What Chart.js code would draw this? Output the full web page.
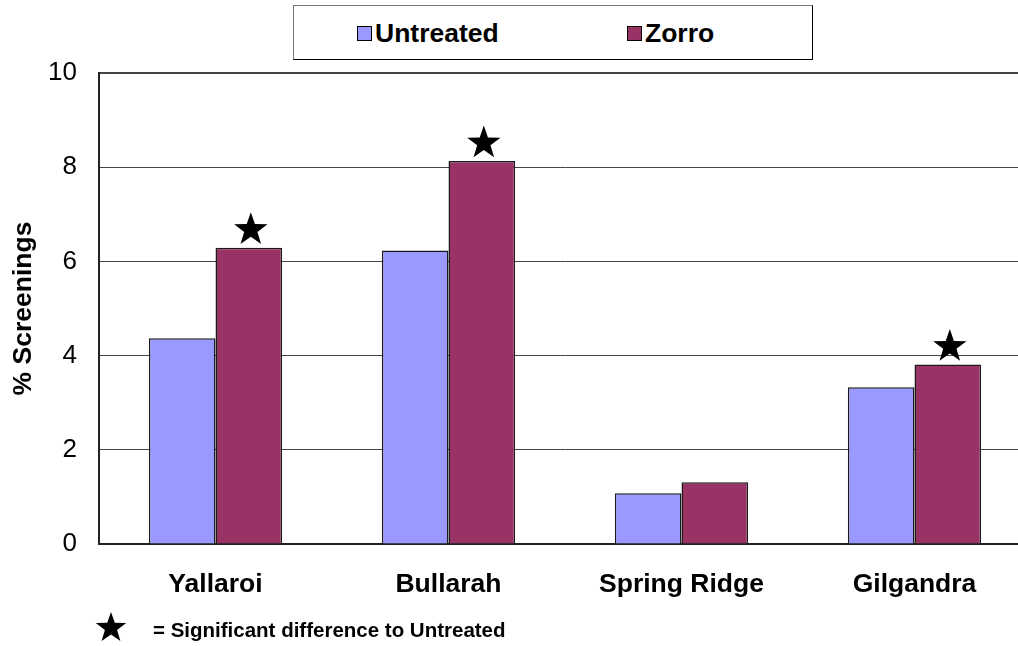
<!DOCTYPE html>
<html>
<head>
<meta charset="utf-8">
<script src="https://cdn.jsdelivr.net/npm/chart.js@4/dist/chart.umd.min.js"></script>
<style>
    html, body { margin: 0; padding: 0; background: #fff; overflow: hidden; }
    #wrap { position: relative; width: 1018px; height: 646px; overflow: hidden; font-family: "Liberation Sans", Arial, sans-serif; }
    #grafica { position: absolute; left: 0; top: 0; }
    .leyenda {
        position: absolute; left: 293px; top: 5px; width: 518px; height: 53px;
        border: 1px solid #000; border-top-color: #777; border-left-color: #777; background: #fff;
    }
    .item { position: absolute; top: 13px; font-weight: bold; font-size: 26.5px; line-height: 28px; color: #000; }
    .caja { display: inline-block; width: 13px; height: 13px; border: 1px solid #000; margin-right: 3px; vertical-align: 1px; }
    .nota { position: absolute; left: 95px; top: 612px; font-weight: bold; font-size: 20.5px; color: #000; }
    .nota svg { vertical-align: -6px; margin-right: 26px; }
</style>
</head>
<body>
<div id="wrap">
    <canvas id="grafica" width="1040" height="646"></canvas>
    <div class="leyenda">
        <span class="item" style="left:63px"><span class="caja" style="background:#9999FF"></span>Untreated</span>
        <span class="item" style="left:333px"><span class="caja" style="background:#993366"></span>Zorro</span>
    </div>
    <div class="nota">
        <svg width="32" height="31" viewBox="-16 -16 32 31"><path id="estrella" fill="#000"></path></svg>= Significant difference to Untreated
    </div>
</div>
<script>
// ========== Datos ==========

const sitios     = ['Yallaroi', 'Bullarah', 'Spring Ridge', 'Gilgandra'];
const untreated  = [4.37, 6.23, 1.08, 3.33];
const zorro      = [6.29, 8.13, 1.31, 3.81];
const significativo = [true, true, false, true];
const ticksY     = [0, 2, 4, 6, 8, 10];

// ========== Estrella ==========

function puntosEstrella(r) {
    const pts = [];
    for (let i = 0; i < 10; i++) {
        const rad = i % 2 === 0 ? r : r * 0.4;
        const ang = -Math.PI / 2 + i * Math.PI / 5;
        pts.push([Math.cos(ang) * rad, Math.sin(ang) * rad]);
    }
    return pts;
}

document.getElementById('estrella').setAttribute('d',
    'M' + puntosEstrella(16).map(p => p[0].toFixed(2) + ',' + p[1].toFixed(2)).join('L') + 'Z');

const pluginEstrellas = {
    id: 'estrellas',
    afterDatasetsDraw(chart) {
        const ctx = chart.ctx;
        const barras = chart.getDatasetMeta(1).data;
        barras.forEach((bar, i) => {
            if (!significativo[i]) return;
            const cx = bar.x + 2, cy = bar.y - 18;
            ctx.save();
            ctx.beginPath();
            puntosEstrella(17.5).forEach((p, k) => {
                if (k === 0) ctx.moveTo(cx + p[0], cy + p[1]);
                else ctx.lineTo(cx + p[0], cy + p[1]);
            });
            ctx.closePath();
            ctx.fillStyle = '#000';
            ctx.fill();
            ctx.restore();
        });
    }
};

// ========== Gráfica ==========

new Chart(document.getElementById('grafica'), {
    type: 'bar',
    data: {
        labels: sitios,
        datasets: [
            { label: 'Untreated', data: untreated, backgroundColor: '#9999FF', borderColor: '#1a1a1a', borderWidth: 1.5 },
            { label: 'Zorro',     data: zorro,     backgroundColor: '#993366', borderColor: '#1a1a1a', borderWidth: 1.5 },
        ]
    },
    options: {
        responsive: false,
        animation: false,
        layout: { padding: { top: 73, right: 9, left: 0, bottom: 0 } },
        datasets: { bar: { categoryPercentage: 0.572, barPercentage: 1.0 } },
        plugins: { legend: { display: false }, tooltip: { enabled: false } },
        scales: {
            x: {
                grid: { display: false, drawTicks: false },
                border: { color: '#222', width: 2 },
                ticks: { color: '#000', padding: 25, font: { family: 'Liberation Sans', size: 26.5, weight: 'bold' } },
                afterFit: s => { s.height = 102; }
            },
            y: {
                min: 0, max: 10,
                afterBuildTicks: s => { s.ticks = ticksY.map(v => ({ value: v })); },
                grid: {
                    color: '#444', drawTicks: false,
                    lineWidth: ctx => (ctx.tick && ctx.tick.value === 10 ? 2 : 1)
                },
                border: { color: '#222', width: 2 },
                ticks: { color: '#000', padding: 22, font: { family: 'Liberation Sans', size: 26 } },
                title: {
                    display: true, text: '% Screenings', color: '#000',
                    padding: { top: 8, bottom: 0 },
                    font: { family: 'Liberation Sans', size: 26.5, weight: 'bold' }
                },
                afterFit: s => { s.width = 99; }
            }
        }
    },
    plugins: [pluginEstrellas]
});
</script>
</body>
</html>
